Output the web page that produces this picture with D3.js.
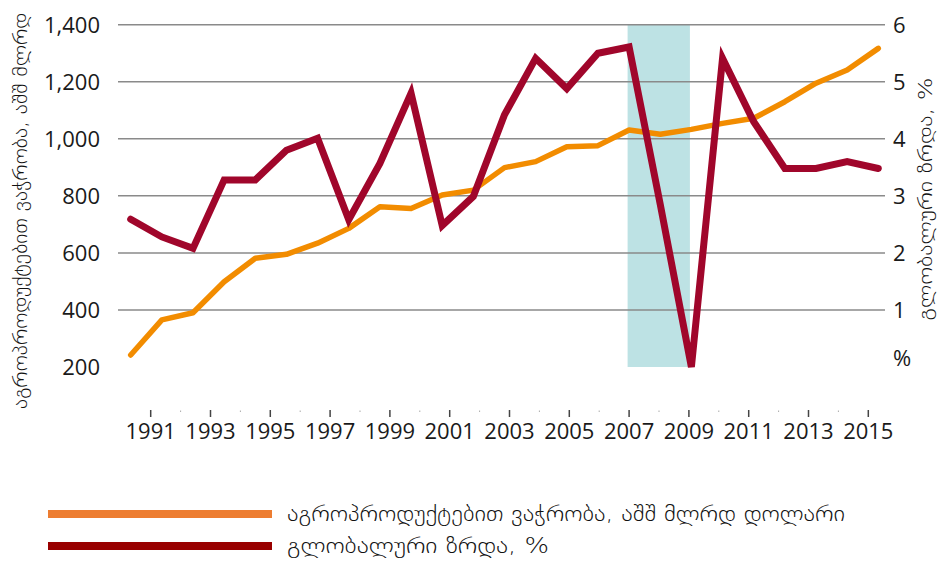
<!DOCTYPE html>
<html>
<head>
<meta charset="utf-8">
<script src="https://cdn.jsdelivr.net/npm/d3@7"></script>
<style>
  html, body { margin: 0; padding: 0; background: #fff; }
  svg { display: block; }
  .geo { font-family: "DejaVu Sans", sans-serif; font-weight: 200; fill: #111; }
  .num { font-family: "Open Sans", sans-serif; fill: #1a1a1a; }
</style>
</head>
<body>
<div id="chart"></div>
<script>
// Years on the x axis
const years = [1991, 1992, 1993, 1994, 1995, 1996, 1997, 1998, 1999, 2000, 2001, 2002, 2003,
               2004, 2005, 2006, 2007, 2008, 2009, 2010, 2011, 2012, 2013, 2014, 2015];

// Agricultural trade, bn USD (left axis)
const tradeValues = [242, 365, 390, 499, 581, 595, 634, 686, 762, 756, 803, 820, 899,
                     920, 972, 976, 1031, 1016, 1033, 1054, 1072, 1130, 1195, 1241, 1317];

// Global growth, % (right axis)
const growthValues = [2.59, 2.28, 2.08, 3.28, 3.28, 3.80, 4.01, 2.58, 3.57, 4.80, 2.48, 2.99, 4.42,
                      5.41, 4.88, 5.50, 5.61, 2.85, 0.0, 5.41, 4.30, 3.48, 3.48, 3.60, 3.48];

const leftTicks = [200, 400, 600, 800, 1000, 1200, 1400];
const rightTicks = [1, 2, 3, 4, 5, 6];
const yearTicks = [1991, 1993, 1995, 1997, 1999, 2001, 2003, 2005, 2007, 2009, 2011, 2013, 2015];
const crisisYears = [2007, 2009];

const leftTitle = "აგროპროდუქტებით ვაჭრობა, აშშ მლრდ";
const rightTitle = "გლობალური ზრდა, %";
const legendLabels = ["აგროპროდუქტებით ვაჭრობა, აშშ მლრდ დოლარი", "გლობალური ზრდა, %"];

const width = 942, height = 561;
const plotTop = 24.7, plotBottom = 367;

const svg = d3.select("#chart").append("svg")
    .attr("width", width)
    .attr("height", height);

// scales: the data points and the year labels are not quite aligned in the original
const xData = d3.scaleLinear().domain([1991, 2015]).range([130.7, 878.3]);
const xLabel = d3.scaleLinear().domain([1991, 2015]).range([150.7, 868.3]);
const yLeft = d3.scaleLinear().domain([200, 1400]).range([plotBottom, plotTop]);
const yRight = d3.scaleLinear().domain([0, 6]).range([plotBottom, plotTop]);

// shaded crisis band
svg.append("rect")
    .attr("x", xData(crisisYears[0]) - 1.5)
    .attr("y", plotTop)
    .attr("width", xData(crisisYears[1]) - xData(crisisYears[0]))
    .attr("height", plotBottom - plotTop)
    .attr("fill", "#bde2e4");

// gridlines
svg.append("g")
    .selectAll("line")
    .data(leftTicks.filter(d => d > 200))
    .enter()
    .append("line")
    .attr("x1", 118)
    .attr("x2", 885)
    .attr("y1", d => yLeft(d))
    .attr("y2", d => yLeft(d))
    .attr("stroke", "#8a8a8a")
    .attr("stroke-width", 1.5);

// left axis labels
svg.append("g")
    .selectAll("text")
    .data(leftTicks)
    .enter()
    .append("text")
    .attr("class", "num")
    .attr("x", 100)
    .attr("y", d => yLeft(d))
    .attr("dy", "0.36em")
    .attr("text-anchor", "end")
    .style("font-size", "22px")
    .text(d => d3.format(",")(d));

// right axis labels
svg.append("g")
    .selectAll("text")
    .data(rightTicks)
    .enter()
    .append("text")
    .attr("class", "num")
    .attr("x", 893)
    .attr("y", d => yRight(d))
    .attr("dy", "0.36em")
    .style("font-size", "22px")
    .text(d => d);

svg.append("text")
    .attr("class", "num")
    .attr("x", 893)
    .attr("y", yRight(0) - 9)
    .attr("dy", "0.36em")
    .style("font-size", "22px")
    .text("%");

// x axis ticks: long ones at labelled years, tiny ones in between
svg.append("g")
    .selectAll("line")
    .data(yearTicks)
    .enter()
    .append("line")
    .attr("x1", d => xLabel(d))
    .attr("x2", d => xLabel(d))
    .attr("y1", 410)
    .attr("y2", 417)
    .attr("stroke", "#444")
    .attr("stroke-width", 1.5);

svg.append("g")
    .selectAll("line")
    .data(years.filter(d => !yearTicks.includes(d)))
    .enter()
    .append("line")
    .attr("x1", d => xLabel(d))
    .attr("x2", d => xLabel(d))
    .attr("y1", 410.5)
    .attr("y2", 412)
    .attr("stroke", "#aaa")
    .attr("stroke-width", 1);

svg.append("g")
    .selectAll("text")
    .data(yearTicks)
    .enter()
    .append("text")
    .attr("x", d => xLabel(d))
    .attr("y", 439)
    .attr("text-anchor", "middle")
    .style("font-family", "'Liberation Sans Narrow', 'Open Sans', sans-serif")
    .style("font-size", "22px")
    .style("fill", "#1a1a1a")
    .text(d => d);

// lines
const tradeLine = d3.line()
    .x((d, i) => xData(years[i]))
    .y(d => yLeft(d));

const growthLine = d3.line()
    .x((d, i) => xData(years[i]))
    .y(d => yRight(d));

svg.append("path")
    .datum(tradeValues)
    .attr("d", tradeLine)
    .attr("fill", "none")
    .attr("stroke", "#f28c00")
    .attr("stroke-width", 5.5)
    .attr("stroke-linejoin", "round")
    .attr("stroke-linecap", "round");

svg.append("path")
    .datum(growthValues)
    .attr("d", growthLine)
    .attr("fill", "none")
    .attr("stroke", "#a0062b")
    .attr("stroke-width", 7)
    .attr("stroke-linejoin", "miter")
    .attr("stroke-linecap", "round");

// axis titles
svg.append("text")
    .attr("class", "geo")
    .attr("transform", "translate(20,211) rotate(-90)")
    .attr("text-anchor", "middle")
    .attr("dy", "0.35em")
    .attr("textLength", 396)
    .attr("lengthAdjust", "spacingAndGlyphs")
    .style("font-size", "19px")
    .text(leftTitle);

svg.append("text")
    .attr("class", "geo")
    .attr("transform", "translate(925,199) rotate(-90)")
    .attr("text-anchor", "middle")
    .attr("dy", "0.35em")
    .attr("textLength", 243)
    .attr("lengthAdjust", "spacingAndGlyphs")
    .style("font-size", "20px")
    .text(rightTitle);

// legend
const legendColors = ["#ed7d31", "#990000"];
const legendY = [514, 546];
const legendLengths = [558, 262];

legendLabels.forEach((label, i) => {
    svg.append("rect")
        .attr("x", 48)
        .attr("y", legendY[i] - 4)
        .attr("width", 224)
        .attr("height", 8)
        .attr("fill", legendColors[i]);

    svg.append("text")
        .attr("class", "geo")
        .attr("x", 287)
        .attr("y", legendY[i])
        .attr("dy", "0.35em")
        .attr("textLength", legendLengths[i])
        .attr("lengthAdjust", "spacingAndGlyphs")
        .style("font-size", "21px")
        .text(label);
});
</script>
</body>
</html>
